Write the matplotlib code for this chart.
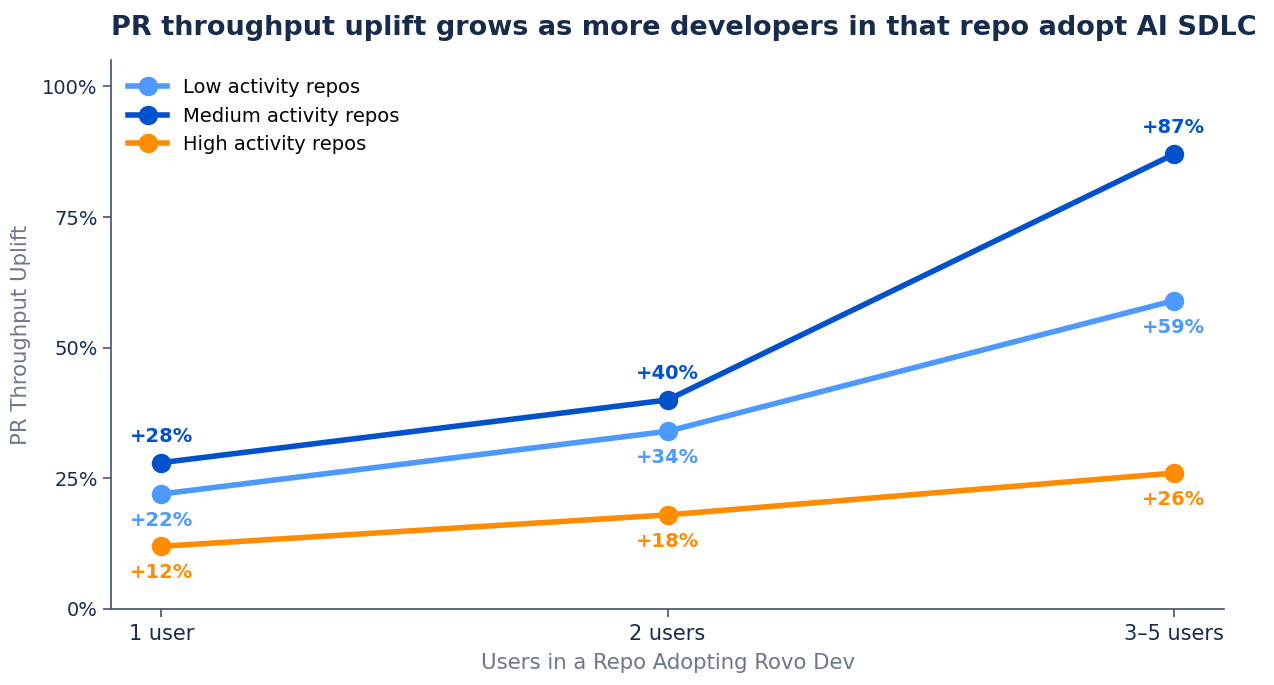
import matplotlib
matplotlib.use("Agg")
import matplotlib.pyplot as plt
from matplotlib.ticker import FuncFormatter

# Data
categories = ["1 user", "2 users", "3\u20135 users"]
low_activity = [22, 34, 59]
medium_activity = [28, 40, 87]
high_activity = [12, 18, 26]

series = [
    ("Low activity repos", low_activity, "#4C9AFF", "below"),
    ("Medium activity repos", medium_activity, "#0052CC", "above"),
    ("High activity repos", high_activity, "#FF8B00", "below"),
]

TEXT = "#172B4D"
MUTED = "#6B778C"
SPINE = "#42526E"

fig, ax = plt.subplots(figsize=(12.74, 6.85), dpi=100)
fig.subplots_adjust(left=0.087, right=0.961, top=0.912, bottom=0.111)

x = list(range(len(categories)))
for label, values, color, pos in series:
    ax.plot(x, values, color=color, linewidth=4, marker="o", markersize=13,
            label=label, zorder=3)
    for xi, v in zip(x, values):
        dy = 19 if pos == "above" else -19
        ax.annotate(f"+{v}%", (xi, v), xytext=(0, dy), textcoords="offset points",
                    ha="center", va="center",
                    fontsize=14, fontweight="bold", color=color)

ax.set_xlim(-0.1, 2.1)
ax.set_ylim(0, 105)
ax.set_xticks(x)
ax.set_xticklabels(categories)
ax.set_yticks([0, 25, 50, 75, 100])
ax.yaxis.set_major_formatter(FuncFormatter(lambda v, _: f"{v:.0f}%"))
ax.tick_params(axis="both", colors=SPINE, labelcolor=TEXT, length=6, width=1.2)
ax.tick_params(axis="x", labelsize=15, pad=5)
ax.tick_params(axis="y", labelsize=14)

for side in ["top", "right"]:
    ax.spines[side].set_visible(False)
for side in ["left", "bottom"]:
    ax.spines[side].set_color(SPINE)
    ax.spines[side].set_linewidth(1.2)

ax.set_xlabel("Users in a Repo Adopting Rovo Dev", fontsize=15.3, color=MUTED, labelpad=6)
ax.set_ylabel("PR Throughput Uplift", fontsize=15.3, color=MUTED, labelpad=8)
ax.set_title("PR throughput uplift grows as more developers in that repo adopt AI SDLC",
             loc="left", fontsize=19.5, fontweight="bold", color=TEXT, pad=18)

ax.legend(loc="upper left", frameon=False, fontsize=14, handlelength=2.0,
          borderaxespad=0.5, labelspacing=0.5)

plt.savefig("out.png", dpi=100)
plt.close()
